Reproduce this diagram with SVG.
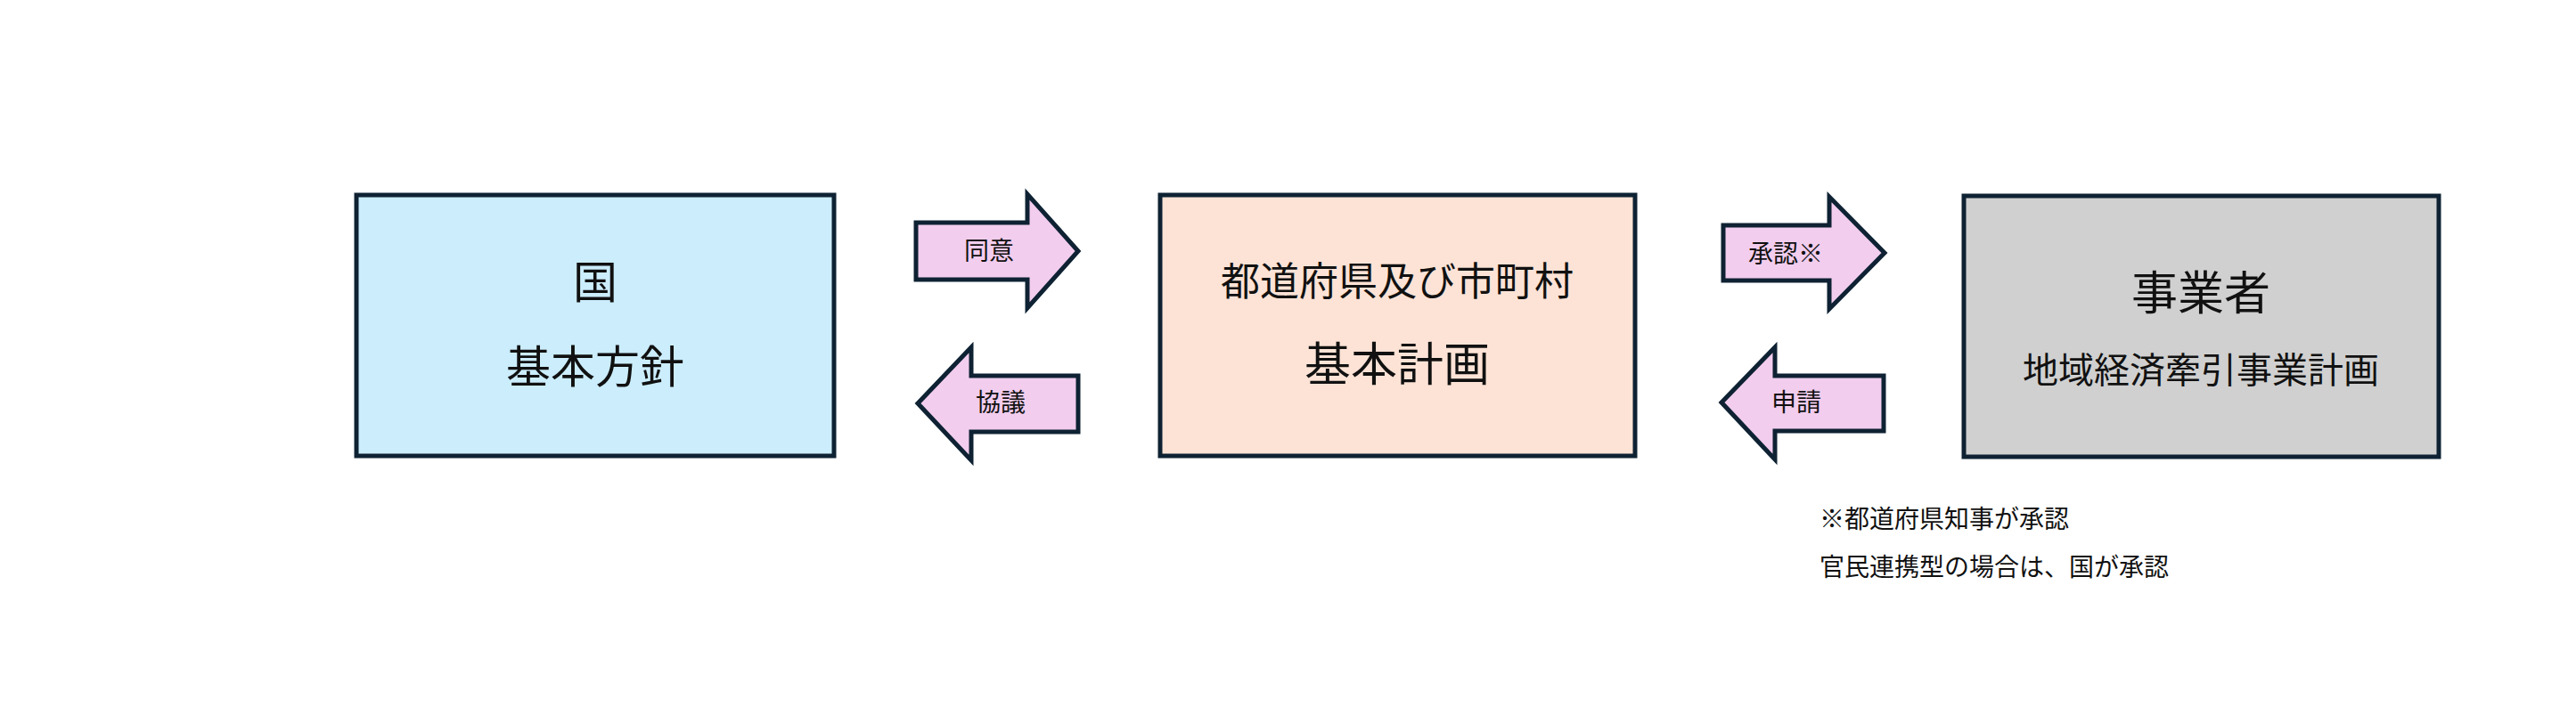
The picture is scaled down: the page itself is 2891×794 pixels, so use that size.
<svg xmlns="http://www.w3.org/2000/svg" width="2891" height="794" viewBox="0 0 2891 794">
<style>
.b{stroke:#0e2233;stroke-width:5}
.a{fill:#f2cdee;stroke:#0e2233;stroke-width:5;stroke-linejoin:miter}
text{font-family:"Noto Sans CJK JP",sans-serif;fill:#111;text-anchor:middle}
</style>
<rect width="2891" height="794" fill="#fff"/>
<g id="kuni"><rect class="b" x="400" y="219" width="536" height="293" fill="#cbedfc"/>
<text x="668" y="335" font-size="50">国</text><text x="668" y="430" font-size="50">基本方針</text></g>
<g id="todofuken"><rect class="b" x="1302" y="219" width="533" height="293" fill="#fde3d6"/>
<text x="1568" y="332" font-size="44">都道府県及び市町村</text><text x="1568" y="428" font-size="52">基本計画</text></g>
<g id="jigyosha"><rect class="b" x="2204" y="220" width="533" height="293" fill="#d0d0d0"/>
<text x="2470" y="348" font-size="52">事業者</text><text x="2470" y="430" font-size="40">地域経済牽引事業計画</text></g>
<g id="connectors">
<g id="douui"><path class="a" d="M1028,250 H1153 V218 L1210,282 L1153,346 V314 H1028 Z"/><text x="1110" y="292" font-size="28">同意</text></g>
<g id="kyougi"><path class="a" d="M1030,453 L1090,390 V422 H1210 V485 H1090 V517 Z"/><text x="1123" y="462" font-size="28">協議</text></g>
<g id="shounin"><path class="a" d="M1934,253 H2053 V221 L2115,284 L2053,347 V315 H1934 Z"/><text x="2004" y="295" font-size="28">承認※</text></g>
<g id="shinsei"><path class="a" d="M1932,452 L1992,390 V422 H2114 V484 H1992 V516 Z"/><text x="2016" y="462" font-size="28">申請</text></g>
</g>
<g id="note" font-size="28"><text x="2042" y="593" style="text-anchor:start">※都道府県知事が承認</text>
<text x="2042" y="647" style="text-anchor:start">官民連携型の場合は、国が承認</text></g>
</svg>
